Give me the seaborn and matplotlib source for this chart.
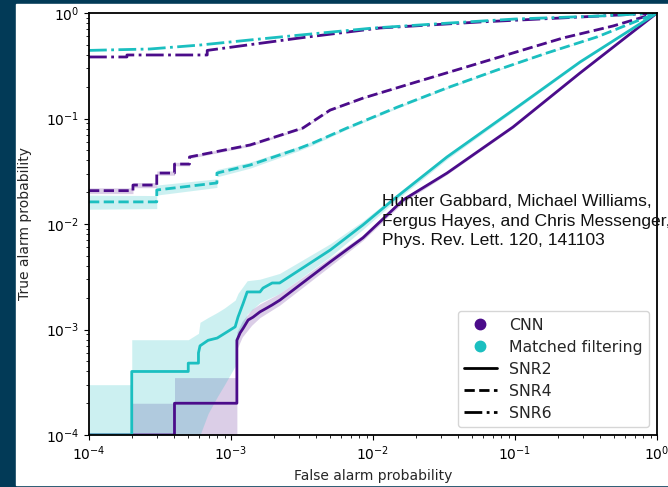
import numpy as np
import seaborn as sns
import matplotlib.pyplot as plt
from matplotlib.lines import Line2D
from matplotlib.patches import Rectangle

# ROC vertices (false alarm prob, true alarm prob)
cnn_snr2_fap = [1e-4, 4e-4, 4e-4, 1.1e-3, 1.1e-3, 1.16e-3, 1.22e-3, 1.32e-3, 1.43e-3, 1.6e-3,
                1.79e-3, 1.95e-3, 2.21e-3, 4.98e-3, 8.5e-3, 0.0163, 0.0332, 0.0968, 0.287, 1.0]
cnn_snr2_tap = [1e-4, 1e-4, 2e-4, 2e-4, 7.9e-4, 9.3e-4, 1.03e-3, 1.23e-3, 1.31e-3, 1.47e-3,
                1.6e-3, 1.71e-3, 1.9e-3, 4.36e-3, 7.4e-3, 0.0169, 0.0304, 0.083, 0.27, 1.0]
cnn_snr2_band_fap = [2e-4, 4e-4, 4e-4, 1.1e-3, 1.1e-3, 1.2e-3, 1.4e-3, 1.6e-3, 2.2e-3, 5e-3,
                     8.5e-3, 0.0163, 0.0332, 0.0968, 0.287, 1.0]
cnn_snr2_lo = [1e-4, 1e-4, 1e-4, 1e-4, 6.5e-4, 8.5e-4, 1.1e-3, 1.3e-3, 1.7e-3, 4.0e-3,
               7.0e-3, 0.016, 0.0295, 0.081, 0.265, 1.0]
cnn_snr2_hi = [2e-4, 2e-4, 3.5e-4, 3.5e-4, 9.5e-4, 1.2e-3, 1.55e-3, 1.75e-3, 2.2e-3, 4.8e-3,
               7.9e-3, 0.0178, 0.0313, 0.085, 0.275, 1.0]

mf_snr2_fap = [1e-4, 2e-4, 2e-4, 5e-4, 5e-4, 5.9e-4, 5.9e-4, 6.05e-4, 6.9e-4, 8e-4, 1.07e-3,
               1.12e-3, 1.22e-3, 1.3e-3, 1.6e-3, 1.68e-3, 1.95e-3, 2.2e-3, 5e-3, 8.5e-3,
               0.0138, 0.0332, 0.0968, 0.287, 1.0]
mf_snr2_tap = [1e-4, 1e-4, 4e-4, 4e-4, 4.8e-4, 4.8e-4, 6e-4, 7e-4, 7.9e-4, 8.3e-4, 1.06e-3,
               1.31e-3, 1.78e-3, 2.27e-3, 2.27e-3, 2.47e-3, 2.76e-3, 2.76e-3, 5.67e-3, 9.8e-3,
               0.0169, 0.0432, 0.12, 0.343, 1.0]
mf_snr2_band_fap = [1e-4, 2e-4, 2e-4, 5e-4, 5.9e-4, 6.05e-4, 6.9e-4, 8e-4, 9e-4, 1.07e-3,
                    1.12e-3, 1.3e-3, 1.6e-3, 2.2e-3, 5e-3, 8.5e-3, 0.0138, 0.0332, 0.0968, 0.287, 1.0]
mf_snr2_lo = [1e-4, 1e-4, 1e-4, 1e-4, 1e-4, 1e-4, 1.6e-4, 2.3e-4, 3e-4, 4.5e-4,
              8e-4, 1.4e-3, 1.8e-3, 2.2e-3, 4.9e-3, 8.9e-3, 0.0158, 0.041, 0.116, 0.335, 1.0]
mf_snr2_hi = [3e-4, 3e-4, 8e-4, 8e-4, 9.2e-4, 1.17e-3, 1.3e-3, 1.45e-3, 1.6e-3, 1.9e-3,
              2.2e-3, 2.9e-3, 3.0e-3, 3.4e-3, 6.5e-3, 1.07e-2, 0.018, 0.0455, 0.124, 0.351, 1.0]

cnn_snr4_fap = [1e-4, 2.04e-4, 2.04e-4, 3e-4, 3e-4, 4e-4, 4e-4, 5.1e-4, 5.1e-4, 1.36e-3,
                3.21e-3, 4.98e-3, 8.5e-3, 0.0191, 0.043, 0.0968, 0.218, 0.49, 1.0]
cnn_snr4_tap = [0.0207, 0.0207, 0.0234, 0.0234, 0.0304, 0.0304, 0.037, 0.037, 0.0432, 0.0561,
                0.0813, 0.12, 0.156, 0.217, 0.301, 0.418, 0.58, 0.753, 1.0]
cnn_snr4_lo = [0.0194, 0.0194, 0.0221, 0.0221, 0.0290, 0.0290, 0.0356, 0.0356, 0.0418, 0.0546,
               0.0797, 0.118, 0.154, 0.215, 0.299, 0.416, 0.578, 0.751, 1.0]
cnn_snr4_hi = [0.0220, 0.0220, 0.0247, 0.0247, 0.0318, 0.0318, 0.0384, 0.0384, 0.0446, 0.0576,
               0.0829, 0.122, 0.158, 0.219, 0.303, 0.420, 0.582, 0.755, 1.0]

mf_snr4_fap = [1e-4, 3e-4, 3e-4, 7.96e-4, 7.96e-4, 1.36e-3, 3.06e-3, 3.78e-3, 6.56e-3, 0.0148,
               0.0332, 0.0747, 0.168, 0.378, 1.0]
mf_snr4_tap = [0.0162, 0.0162, 0.021, 0.0245, 0.0304, 0.0362, 0.0525, 0.0586, 0.0813, 0.128,
               0.195, 0.288, 0.418, 0.593, 1.0]
mf_snr4_lo = [0.0138, 0.0140, 0.0188, 0.0222, 0.0280, 0.0338, 0.0500, 0.0562, 0.0790, 0.125,
              0.191, 0.284, 0.414, 0.589, 1.0]
mf_snr4_hi = [0.0188, 0.0186, 0.0234, 0.0268, 0.0328, 0.0386, 0.0550, 0.0610, 0.0836, 0.131,
              0.199, 0.292, 0.422, 0.597, 1.0]

cnn_snr6_fap = [1e-4, 1.85e-4, 1.85e-4, 6.8e-4, 6.8e-4, 3.06e-3, 0.0112, 0.0567, 0.287, 1.0]
cnn_snr6_tap = [0.383, 0.383, 0.40, 0.40, 0.442, 0.58, 0.721, 0.822, 0.916, 1.0]

mf_snr6_fap = [1e-4, 2.69e-4, 6.05e-4, 1.36e-3, 3.06e-3, 0.01, 0.0348, 0.1, 0.4, 1.0]
mf_snr6_tap = [0.442, 0.456, 0.497, 0.555, 0.618, 0.72, 0.804, 0.877, 0.937, 1.0]

legend_labels = ['CNN', 'Matched filtering', 'SNR2', 'SNR4', 'SNR6']
credit = 'Hunter Gabbard, Michael Williams,\nFergus Hayes, and Chris Messenger,\nPhys. Rev. Lett. 120, 141103'

purple = '#4b0c8a'
cyan = '#1bbfc0'
bg = '#023a57'

sns.set_style('ticks')
plt.rcParams['font.family'] = ['DejaVu Sans']

fig = plt.figure(figsize=(6.68, 4.87), dpi=100, facecolor=bg)
fig.patches.append(Rectangle((16 / 668, 2 / 487), 652 / 668, 481 / 487,
                             transform=fig.transFigure, color='white', zorder=-5))
ax = fig.add_axes([89 / 668, 52 / 487, 568 / 668, 422 / 487])

ax.fill_between(cnn_snr2_band_fap, cnn_snr2_lo, cnn_snr2_hi, color=purple, alpha=0.2, lw=0)
ax.fill_between(mf_snr2_band_fap, mf_snr2_lo, mf_snr2_hi, color=cyan, alpha=0.22, lw=0)
ax.fill_between(cnn_snr4_fap, cnn_snr4_lo, cnn_snr4_hi, color=purple, alpha=0.2, lw=0)
ax.fill_between(mf_snr4_fap, mf_snr4_lo, mf_snr4_hi, color=cyan, alpha=0.22, lw=0)

curves = [
    (cnn_snr6_fap, cnn_snr6_tap, purple, '-.'),
    (mf_snr6_fap, mf_snr6_tap, cyan, '-.'),
    (cnn_snr4_fap, cnn_snr4_tap, purple, '--'),
    (mf_snr4_fap, mf_snr4_tap, cyan, '--'),
    (cnn_snr2_fap, cnn_snr2_tap, purple, '-'),
    (mf_snr2_fap, mf_snr2_tap, cyan, '-'),
]
for xs, ys, col, ls in curves:
    sns.lineplot(x=xs, y=ys, ax=ax, color=col, linestyle=ls, lw=2,
                 sort=False, estimator=None, legend=False)

ax.set_xscale('log')
ax.set_yscale('log')
ax.set_xlim(1e-4, 1)
ax.set_ylim(1e-4, 1)
for s in ax.spines.values():
    s.set_linewidth(1.3)
    s.set_color('black')
ax.tick_params(which='both', colors='black', labelsize=10)
ax.set_xlabel('False alarm probability', fontsize=10)
ax.set_ylabel('True alarm probability', fontsize=10)
ax.yaxis.set_label_coords(-0.1, 0.5)

handles = [
    Line2D([], [], marker='o', ls='none', color=purple, markersize=7.5),
    Line2D([], [], marker='o', ls='none', color=cyan, markersize=7.5),
    Line2D([], [], color='black', ls='-', lw=2),
    Line2D([], [], color='black', ls='--', lw=2),
    Line2D([], [], color='black', ls='-.', lw=2),
]
ax.legend(handles, legend_labels, loc='lower right', fontsize=11.3,
          labelspacing=0.45, borderaxespad=0.5, handlelength=2.1)

fig.text(382 / 668, 1 - 194 / 487, credit, family='Liberation Sans', fontsize=12.6,
         color='#111111', va='top', ha='left', linespacing=1.38)

fig.savefig('out.png', dpi=100, facecolor=fig.get_facecolor())
